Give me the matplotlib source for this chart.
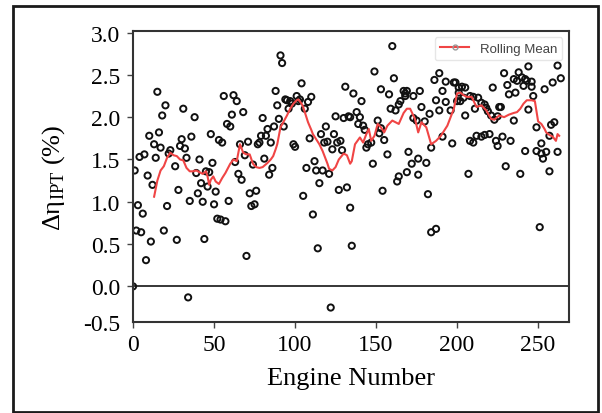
import matplotlib
matplotlib.use('Agg')
import matplotlib.pyplot as plt
from matplotlib.lines import Line2D
from matplotlib.patches import Rectangle

# engine number / efficiency delta of each engine
engine_points = [
    (0, 0.00), (1, 1.37), (2, 0.66), (3, 0.96), (4, 1.53), (5, 0.64), (6, 0.86), (7, 1.56),
    (8, 0.31), (9, 1.31), (10, 1.78), (11, 0.53), (12, 1.20), (13, 1.68), (14, 1.52), (15, 2.30),
    (16, 1.82), (17, 1.64), (18, 2.02), (19, 0.66), (20, 2.14), (21, 0.95), (22, 1.57), (23, 1.61),
    (26, 1.42), (27, 0.55), (28, 1.14), (29, 1.66), (30, 1.74), (31, 2.10), (32, 1.63), (33, 1.52),
    (34, -0.13), (35, 1.01), (36, 1.77), (38, 2.00), (39, 1.34), (40, 1.10), (41, 1.50), (42, 1.22),
    (43, 1.00), (44, 0.56), (45, 1.36), (46, 1.18), (47, 1.35), (48, 1.80), (49, 1.46), (50, 0.97),
    (51, 1.12), (52, 0.80), (53, 1.73), (54, 0.79), (55, 1.70), (56, 2.25), (57, 0.77), (58, 1.92),
    (59, 1.01), (60, 1.89), (61, 2.03), (62, 2.26), (63, 1.47), (64, 2.19), (65, 1.33), (66, 1.68),
    (67, 1.26), (68, 2.06), (69, 1.55), (70, 0.36), (71, 1.71), (72, 1.10), (73, 0.95), (74, 1.44),
    (75, 0.97), (76, 1.13), (77, 1.68), (78, 1.70), (79, 1.78), (80, 1.99), (81, 1.51), (82, 1.78),
    (83, 1.86), (84, 1.32), (85, 1.70), (86, 1.40), (87, 1.89), (88, 2.31), (89, 2.14), (90, 1.98),
    (91, 2.73), (92, 2.64), (93, 1.89), (94, 2.21), (95, 2.20), (96, 2.10), (97, 2.19), (98, 2.16),
    (99, 1.68), (100, 1.65), (101, 2.25), (102, 2.19), (103, 2.21), (104, 2.40), (105, 1.07),
    (106, 2.10), (107, 1.40), (108, 2.18), (109, 1.75), (110, 2.24), (111, 0.85), (112, 1.48),
    (113, 1.37), (114, 0.45), (115, 1.22), (116, 1.80), (117, 1.37), (118, 1.70), (119, 1.89),
    (120, 1.71), (121, 1.33), (122, -0.25), (123, 1.62), (124, 1.80), (125, 2.01), (126, 1.70),
    (127, 1.14), (128, 1.72), (129, 1.61), (130, 1.99), (131, 2.36), (132, 1.17), (133, 2.01),
    (134, 0.93), (135, 0.48), (134, 2.00), (136, 2.28), (138, 2.06), (139, 1.92), (140, 2.00),
    (141, 2.19), (142, 1.90), (143, 1.85), (144, 1.64), (145, 1.68), (147, 1.70), (148, 1.45),
    (149, 2.54), (151, 1.96), (152, 1.81), (153, 2.33), (153, 1.87), (154, 1.13), (155, 1.73),
    (157, 1.56), (158, 2.27), (159, 2.10), (160, 2.84), (161, 2.46), (162, 2.08), (163, 1.24),
    (164, 2.15), (164, 1.30), (165, 2.19), (167, 2.31), (168, 2.28), (169, 2.31), (168, 2.25),
    (173, 2.25), (177, 2.31), (173, 1.99), (175, 1.96), (178, 2.12), (180, 1.95), (183, 2.04),
    (170, 1.59), (172, 1.45), (169, 1.35), (176, 1.51), (176, 1.32), (181, 1.46), (182, 1.09),
    (184, 0.64), (187, 0.68), (184, 1.64), (186, 2.44), (189, 2.52), (187, 2.20), (189, 2.08),
    (191, 1.77), (191, 2.31), (193, 2.18), (193, 2.42), (196, 2.08), (197, 1.69), (198, 2.41),
    (199, 2.41), (200, 2.19), (201, 2.35), (201, 2.29), (203, 2.36), (205, 2.35), (202, 2.19),
    (204, 2.23), (205, 2.02), (208, 2.25), (210, 2.24), (211, 2.10), (213, 2.23), (215, 2.17),
    (217, 2.15), (218, 2.11), (219, 2.07), (221, 2.02), (222, 2.35), (223, 1.97), (225, 2.01),
    (226, 2.12), (227, 2.12), (228, 1.77), (229, 2.52), (231, 2.38), (232, 2.27), (235, 2.45),
    (235, 1.96), (233, 1.72), (230, 1.42), (224, 1.72), (225, 1.66), (220, 1.80), (217, 1.79),
    (215, 1.77), (212, 1.78), (210, 1.70), (208, 1.72), (207, 1.33), (237, 2.43), (238, 2.53),
    (240, 2.47), (241, 2.37), (242, 2.45), (243, 2.43), (244, 2.60), (246, 2.42), (246, 2.36),
    (236, 2.29), (247, 2.25), (244, 2.09), (249, 1.88), (254, 2.33), (259, 2.41), (262, 2.61),
    (264, 2.46), (258, 1.91), (260, 1.94), (257, 1.78), (252, 1.69), (242, 1.60), (249, 1.60),
    (252, 1.57), (255, 1.59), (253, 1.51), (257, 1.36), (262, 1.59), (239, 1.33), (251, 0.70),
]
engine_number = [p[0] for p in engine_points]
delta_eta = [p[1] for p in engine_points]

# rolling mean curve
roll_x = [13, 15, 17, 19, 21, 23, 25, 27, 29, 31, 33, 35, 37, 39, 41, 43, 45, 46, 47, 48, 49.5,
          51, 53, 55, 57, 60, 62, 64, 66, 68, 70, 72, 74, 76, 78, 80, 83, 85, 86.5, 88, 89, 91,
          93, 95, 97, 99, 101, 102, 104, 105, 107, 108, 110, 111, 113, 115, 117, 118, 120, 121,
          123, 125, 127, 130, 132, 134, 135, 137, 140, 142, 144, 145.5, 147, 149, 151, 153, 155,
          157, 160, 162, 164, 167, 169, 171, 174, 176, 178, 181, 184, 187, 190, 192, 194, 196,
          198, 200, 202, 204, 206, 209, 212, 215, 218, 221, 223, 226, 229, 232, 235, 237, 239,
          241, 243, 246, 248, 250, 252, 254, 255, 257, 259, 261, 262, 263]
roll_y = [1.06, 1.25, 1.37, 1.42, 1.52, 1.58, 1.55, 1.54, 1.50, 1.49, 1.40, 1.36, 1.36, 1.37,
          1.35, 1.33, 1.36, 1.30, 1.20, 1.26, 1.30, 1.24, 1.21, 1.28, 1.34, 1.45, 1.50, 1.48,
          1.68, 1.58, 1.56, 1.56, 1.45, 1.41, 1.40, 1.41, 1.46, 1.50, 1.54, 1.62, 1.68, 1.88,
          1.95, 2.02, 2.10, 2.16, 2.20, 2.21, 2.16, 2.12, 2.00, 1.94, 1.85, 1.80, 1.74, 1.68,
          1.60, 1.55, 1.45, 1.39, 1.37, 1.41, 1.50, 1.57, 1.55, 1.45, 1.48, 1.68, 1.76, 1.70,
          1.80, 1.86, 1.72, 1.78, 1.92, 1.88, 1.82, 1.90, 1.96, 1.94, 1.92, 2.05, 2.10, 2.10,
          1.98, 1.82, 1.94, 1.88, 1.68, 1.72, 1.78, 1.84, 1.90, 2.00, 2.10, 2.28, 2.29, 2.26,
          2.24, 2.24, 2.12, 2.14, 2.08, 1.98, 1.97, 2.02, 2.00, 2.03, 2.05, 2.06, 2.10, 2.16,
          2.20, 2.20, 2.19, 1.95, 1.92, 1.86, 1.82, 1.79, 1.77, 1.72, 1.80, 1.78]

y_ticks = [0.0, 0.5, 1.0, 1.5, 2.0, 2.5, 3.0]
x_ticks = [0, 50, 100, 150, 200, 250]

plt.rcParams['font.family'] = 'Liberation Serif'
plt.rcParams['mathtext.fontset'] = 'custom'
plt.rcParams['mathtext.rm'] = 'Liberation Serif'

fig = plt.figure(figsize=(6.02, 4.14), dpi=100)
ax = fig.add_axes([0.221, 0.220, 0.724, 0.703])

# frame around the whole figure
fig.patches.append(Rectangle((0.021, 0.003), 0.973, 0.980, transform=fig.transFigure,
                             fill=False, edgecolor='#1a1a1a', linewidth=2.0))

ax.axhline(0, color='black', linewidth=1.1, zorder=1)
ax.scatter(engine_number, delta_eta, s=20, facecolors='none', edgecolors='#111111',
           linewidths=1.4, zorder=2)
ax.plot(roll_x, roll_y, color='#f04545', linewidth=1.5, zorder=3)

ax.set_xlim(0, 269)
ax.set_ylim(-0.42, 3.02)
ax.set_xticks(x_ticks)
# bottom label sits at the lower edge of the axes
ax.set_yticks(y_ticks + [-0.42])
ax.set_yticklabels(['0.0', '0.5', '1.0', '1.5', '2.0', '2.5', '3.0', '-0.5'])
ax.yaxis.get_major_ticks()[-1].tick1line.set_visible(False)
ax.tick_params(axis='both', labelsize=17, length=4, width=1, color='#444444', pad=5)

for side in ax.spines.values():
    side.set_linewidth(1.5)
    side.set_color('#333333')

ax.set_xlabel('Engine Number', fontsize=19, labelpad=8)
ax.set_ylabel('Δη$_{\\mathrm{IPT}}$ (%)', fontsize=19, labelpad=12)

handle = (Line2D([], [], color='#f04545', linewidth=1.5),
          Line2D([], [], linestyle='none', marker='o', markersize=3.5,
                 markerfacecolor='none', markeredgecolor='#999999'))
leg = ax.legend([handle], ['Rolling Mean'], loc='upper right',
                prop={'family': 'Liberation Sans', 'size': 9.5}, frameon=True,
                fancybox=True, edgecolor='#e0e0e0', borderaxespad=0.5, handlelength=2.2)
for t in leg.get_texts():
    t.set_color('#444444')

fig.savefig('out.png', dpi=100)
